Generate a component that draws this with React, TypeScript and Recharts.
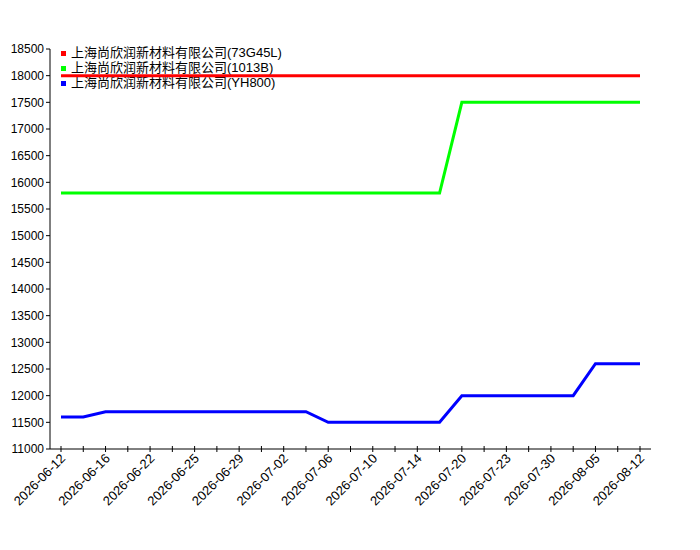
import { LineChart, Line, XAxis, YAxis } from 'recharts'

const dates = [
  '2026-06-12', '2026-06-15', '2026-06-16', '2026-06-19', '2026-06-22',
  '2026-06-23', '2026-06-25', '2026-06-26', '2026-06-29', '2026-06-30',
  '2026-07-02', '2026-07-03', '2026-07-06', '2026-07-08', '2026-07-10',
  '2026-07-13', '2026-07-14', '2026-07-16', '2026-07-20', '2026-07-21',
  '2026-07-23', '2026-07-27', '2026-07-30', '2026-08-03', '2026-08-05',
  '2026-08-10', '2026-08-12',
]

const red73G45L = [
  18000, 18000, 18000, 18000, 18000, 18000, 18000, 18000, 18000, 18000,
  18000, 18000, 18000, 18000, 18000, 18000, 18000, 18000, 18000, 18000,
  18000, 18000, 18000, 18000, 18000, 18000, 18000,
]

const green1013B = [
  15800, 15800, 15800, 15800, 15800, 15800, 15800, 15800, 15800, 15800,
  15800, 15800, 15800, 15800, 15800, 15800, 15800, 15800, 17500, 17500,
  17500, 17500, 17500, 17500, 17500, 17500, 17500,
]

const blueYH800 = [
  11600, 11600, 11700, 11700, 11700, 11700, 11700, 11700, 11700, 11700,
  11700, 11700, 11500, 11500, 11500, 11500, 11500, 11500, 12000, 12000,
  12000, 12000, 12000, 12000, 12600, 12600, 12600,
]

const yTicks = [
  11000, 11500, 12000, 12500, 13000, 13500, 14000, 14500,
  15000, 15500, 16000, 16500, 17000, 17500, 18000, 18500,
]

const series = [
  { key: 'a', name: '上海尚欣润新材料有限公司(73G45L)', color: '#ff0000' },
  { key: 'b', name: '上海尚欣润新材料有限公司(1013B)', color: '#00ff00' },
  { key: 'c', name: '上海尚欣润新材料有限公司(YH800)', color: '#0000ff' },
]

const data = dates.map((d, i) => ({
  date: d,
  a: red73G45L[i],
  b: green1013B[i],
  c: blueYH800[i],
}))

const FONT = '"Liberation Sans", Arial, "Noto Sans CJK SC", sans-serif'

// every category gets a tick mark, only even ones get a label
function DateTick(props: any) {
  const { x, y, payload, index } = props
  return (
    <g>
      <line x1={x} x2={x} y1={y - 3} y2={y + 3} stroke="#000" />
      {index % 2 === 0 && (
        <text
          x={0}
          y={0}
          transform={`translate(${x + 2},${y + 7}) rotate(-45)`}
          textAnchor="end"
          dy="0.35em"
          fontSize={13}
          fontFamily={FONT}
          fill="#000"
        >
          {payload.value}
        </text>
      )}
    </g>
  )
}

// legend sits under the svg so the lines paint over it, as in the original
function LegendBox() {
  return (
    <div
      style={{
        position: 'absolute',
        left: 61,
        top: 44,
        fontFamily: FONT,
        fontSize: 13,
        color: '#000',
      }}
    >
      {series.map((s) => (
        <div key={s.key} style={{ display: 'flex', alignItems: 'center', height: 15, whiteSpace: 'nowrap' }}>
          <span
            style={{ width: 5, height: 5, background: s.color, marginRight: 5, position: 'relative', top: 2 }}
          />
          <span>{s.name}</span>
        </div>
      ))}
    </div>
  )
}

export default function App() {
  return (
    <div style={{ position: 'absolute', left: 0, top: 0, width: 700, height: 550 }}>
      <LegendBox />
      <div style={{ position: 'relative' }}>
        <LineChart
          width={700}
          height={550}
          data={data}
          margin={{ top: 49, right: 49, bottom: 0, left: 0 }}
        >
          <XAxis
            dataKey="date"
            interval={0}
            padding={{ left: 11, right: 11 }}
            tickLine={false}
            tickSize={0}
            tickMargin={0}
            height={101}
            axisLine={{ stroke: '#000' }}
            tick={<DateTick />}
          />
          <YAxis
            domain={[11000, 18500]}
            ticks={yTicks}
            width={50}
            tickSize={4}
            tickMargin={2}
            axisLine={{ stroke: '#000' }}
            tickLine={{ stroke: '#000' }}
            tick={{ fontSize: 12, fill: '#000', fontFamily: FONT }}
          />
          {series.map((s) => (
            <Line
              key={s.key}
              dataKey={s.key}
              name={s.name}
              type="linear"
              stroke={s.color}
              strokeWidth={3}
              dot={false}
              activeDot={false}
              isAnimationActive={false}
            />
          ))}
        </LineChart>
      </div>
    </div>
  )
}
